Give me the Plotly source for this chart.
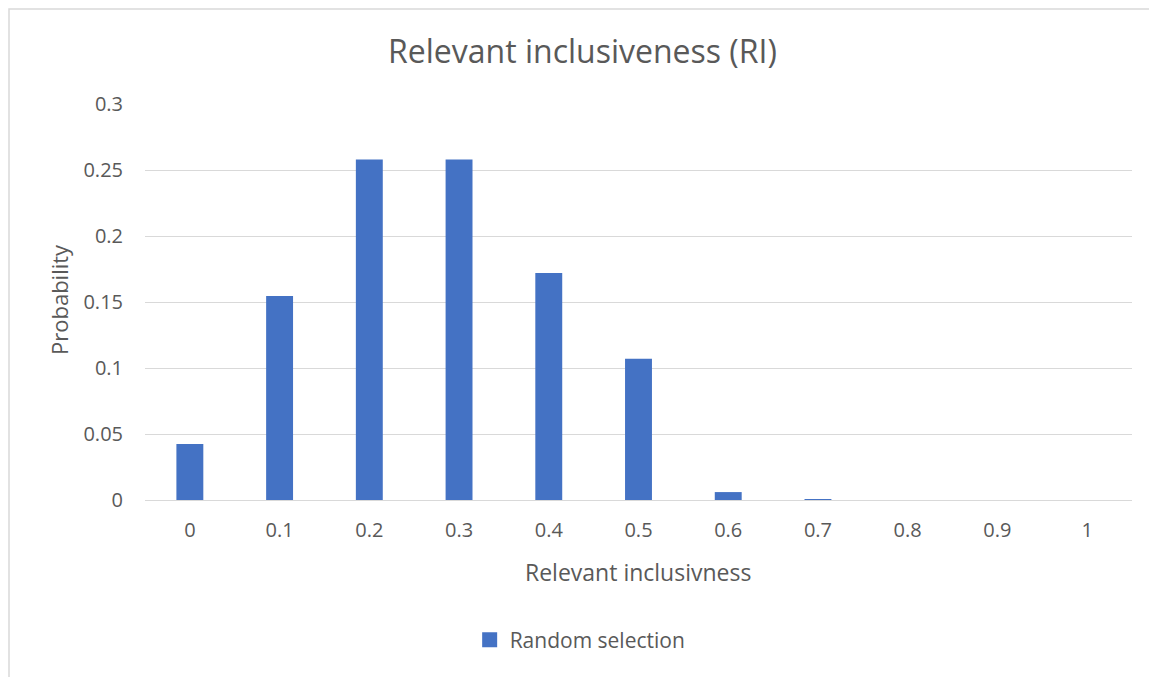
import plotly.graph_objects as go

categories = ["0", "0.1", "0.2", "0.3", "0.4", "0.5", "0.6", "0.7", "0.8", "0.9", "1"]
probability = [0.0424, 0.1545, 0.258, 0.258, 0.172, 0.107, 0.006, 0.0006, 0, 0, 0]
y_ticks = [0, 0.05, 0.1, 0.15, 0.2, 0.25, 0.3]
y_tick_labels = ["0", "0.05", "0.1", "0.15", "0.2", "0.25", "0.3"]
series_name = "Random selection"

txt = "#595959"
bar_color = "#4472C4"
font_family = "Open Sans, Liberation Sans, sans-serif"

fig = go.Figure()
fig.add_trace(go.Bar(
    x=categories, y=probability, name=series_name, showlegend=False,
    marker=dict(color=bar_color, line=dict(width=0)),
    width=0.3,
))
# legend-only entry with a larger square swatch
fig.add_trace(go.Scatter(
    x=[None], y=[None], mode="markers", name=series_name,
    marker=dict(symbol="square", size=15, color=bar_color),
    hoverinfo="skip",
))

fig.update_layout(
    width=1149, height=669,
    margin=dict(l=137, r=25, t=96, b=177),
    paper_bgcolor="white", plot_bgcolor="white",
    font=dict(family=font_family, color=txt, size=20),
    title=dict(text="Relevant inclusiveness (RI)", x=0.5, xanchor="center",
               yref="container", y=1 - 44 / 669, yanchor="middle",
               font=dict(size=32, color=txt)),
    showlegend=True,
    legend=dict(orientation="h", x=0.449 - 8 / 987, xanchor="center", y=-140 / 396, yanchor="middle",
                font=dict(size=21, color=txt), itemwidth=30),
    xaxis=dict(type="category", showgrid=False, showline=False, ticks="",
               ticklabelstandoff=16,
               tickfont=dict(size=20, color=txt)),
    yaxis=dict(range=[0, 0.3], tickvals=y_ticks, ticktext=y_tick_labels,
               showgrid=True, gridcolor="#D9D9D9", gridwidth=1,
               zeroline=True, zerolinecolor="#D9D9D9", zerolinewidth=1,
               showline=False, ticks="", ticklabelstandoff=21,
               tickfont=dict(size=20, color=txt)),
    annotations=[
        dict(text="Relevant inclusivness", xref="paper", yref="paper",
             x=(638 - 145) / 987, y=-72 / 396, xanchor="center", yanchor="middle",
             showarrow=False, font=dict(size=23, color=txt)),
        dict(text="Probability", xref="paper", yref="paper", textangle=-90,
             x=(59 - 145) / 987, y=(500 - 300) / 396, xanchor="center", yanchor="middle",
             showarrow=False, font=dict(size=22, color=txt)),
    ],
    shapes=[dict(type="rect", xref="paper", yref="paper",
                 x0=-136 / 987, x1=1.2, y0=-0.6, y1=1 + 95 / 396,
                 line=dict(color="#D9D9D9", width=1.5), fillcolor="rgba(0,0,0,0)",
                 layer="below")],
)

fig.write_html("out.html")
